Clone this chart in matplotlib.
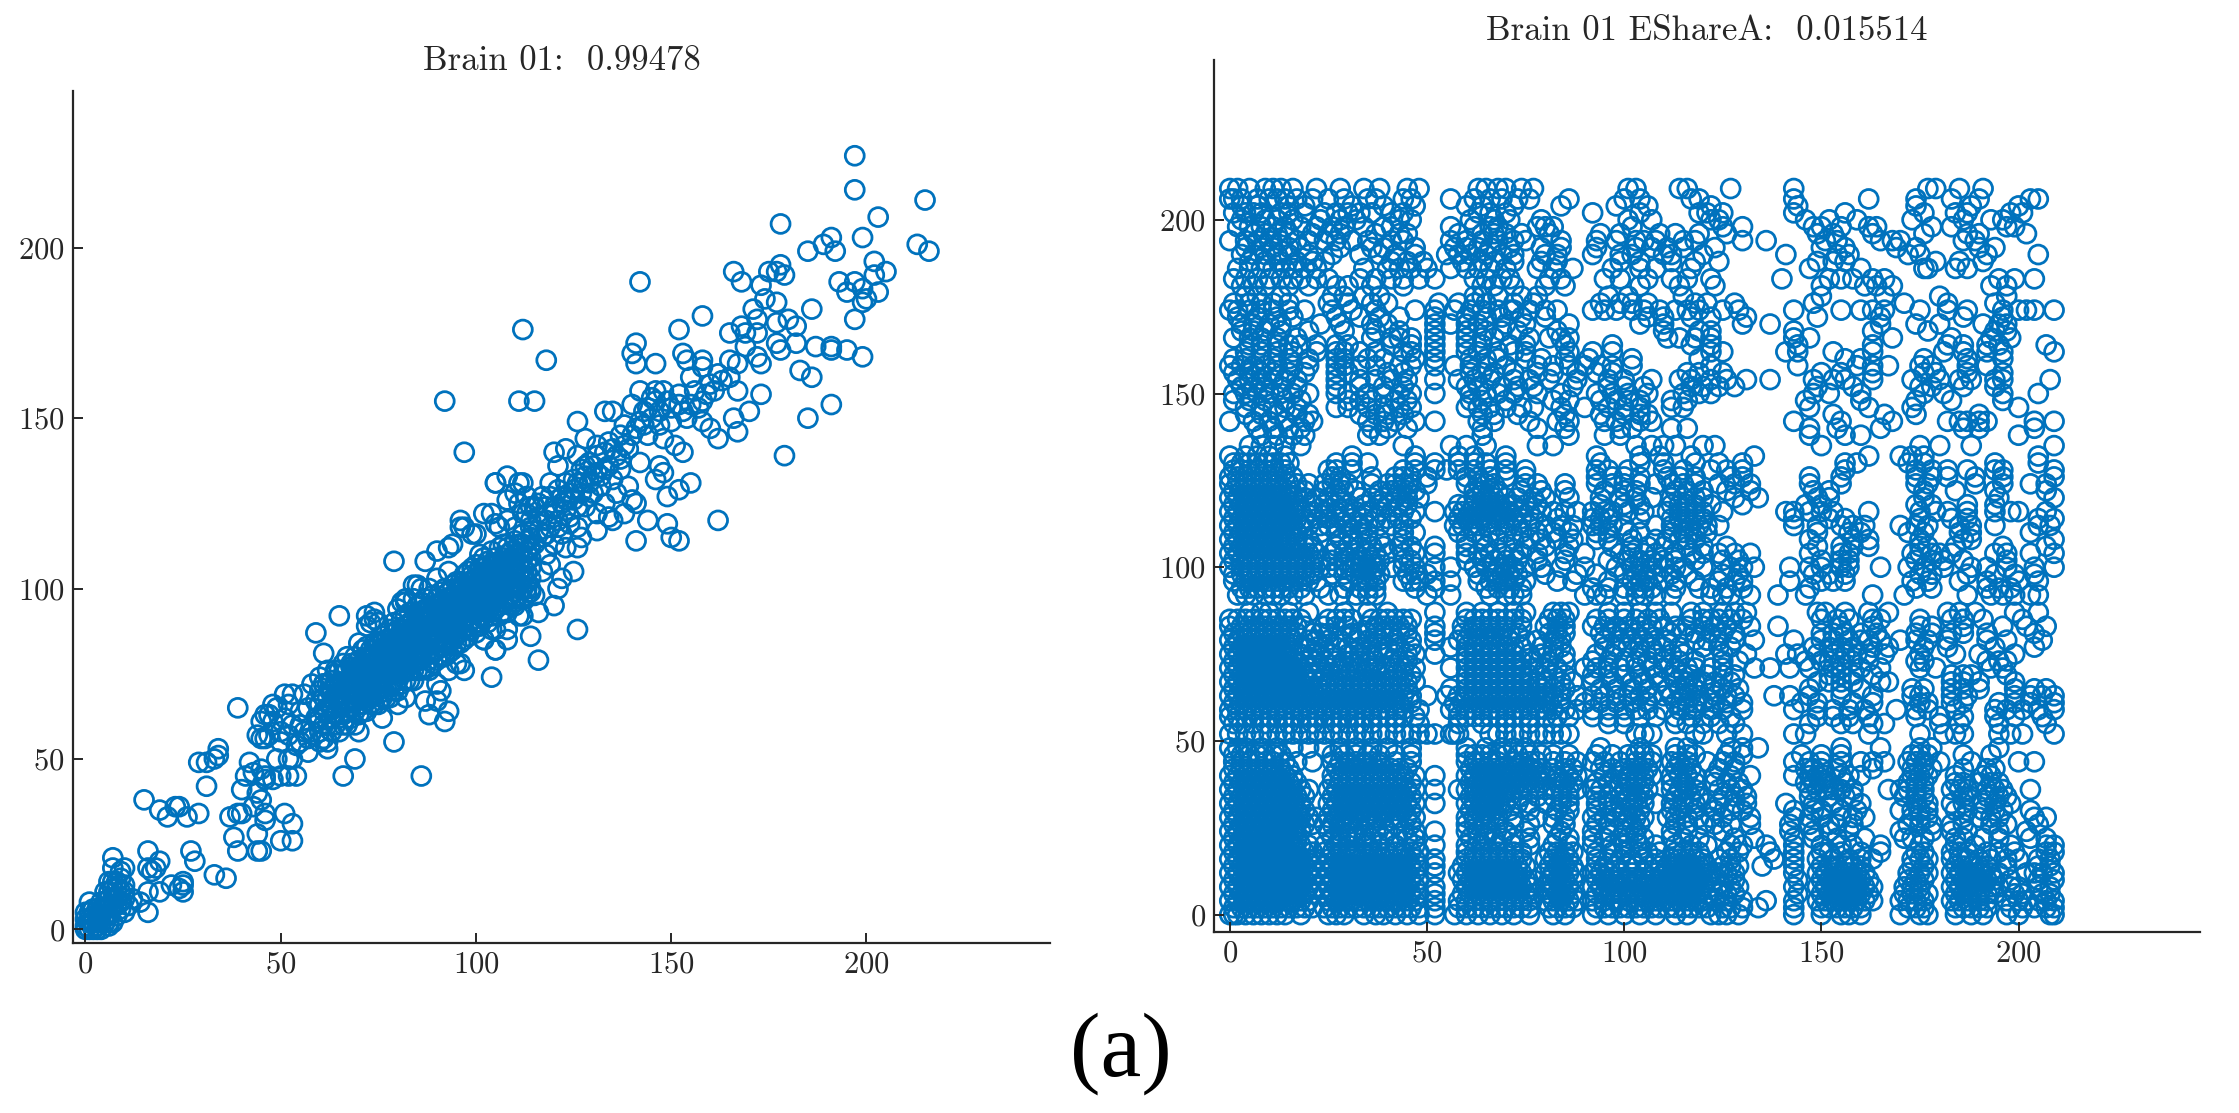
"""Brain 01 scatter plots: original vs. shared copy."""

import matplotlib
matplotlib.use("Agg")
import matplotlib.pyplot as plt

# Left panel as (x, y)

left_top = [(197,227),(197,217),(215,214),(203,209),(178,207),(199,203),(191,203),(189,201),(213,201),(216,199),(185,199),(192,199),
            (202,196),(205,193),(202,192),(166,193),(168,190),(178,195),(175,193),(177,193),(179,192),(173,189),(193,190),(197,190),
            (195,187),(203,187),(199,188),(199,184),(200,185),(142,190),(174,185),(177,184),(171,182),(186,182),(197,179),(158,180),
            (172,179),(177,178),(180,179),(182,177),(152,176),(165,175),(168,177),(169,175),(112,176),(172,175),(141,172),(169,171),
            (177,172),(182,172),(187,171),(191,171),(191,170),(178,170),(195,170),(199,168),(153,169),(140,169),(172,168),(173,166),
            (118,167),(141,166),(146,166),(158,167),(154,167),(165,167),(167,166),(183,164),(186,162),(173,157),(167,158),(170,152),
            (92,155),(111,155),(115,155),(191,154),(185,150),(166,150),(167,146),(162,144),(179,139),(97,140),(126,149),(120,140)]

left_upper = [(162,120),(141,114),(149,119),(150,115),(152,114),(144,120),(155,131),(152,129),(149,127),(146,132),(147,136),(148,134),
              (142,137),(140,126),(141,125),(139,130),(153,140),(151,142),(148,144),(145,150),(143,152),(140,154),(142,158),(145,156),
              (148,158),(152,157),(156,158),(160,160),(162,163),(158,165),(155,162),(159,157),(157,153),(153,152),(150,149),(147,148),
              (144,145),(141,147),(138,148),(135,152),(133,152),(137,145),(134,143),(131,142),(128,144),(126,139),(123,141),(121,136),
              (119,131),(117,127),(115,124),(113,122),(128,136),(130,133),(132,130),(135,132),(137,135),(136,128),(133,125),(131,122),
              (129,127),(127,131),(125,129),(122,127),(120,124),(118,120),(116,117),(124,121),(126,118),(128,124),(131,117),(134,121),
              (126,112),(125,105),(122,103),(121,100),(117,105),(114,100),(115,98),(119,107),(123,112),(127,115),(138,122),(135,120),
              (155,154),(158,155),(161,158),(163,161),(165,162),(150,153),(147,152),(143,148),(139,141),(137,138),(133,135),(130,136),
              (128,133),(126,131),(124,128),(122,125),(120,122),(118,124),(149,155),(146,158),(152,154),(160,147),(158,149),(154,150),
              (131,134),(129,131),(127,128),(125,126),(123,123),(121,120),(119,118),(117,115),(115,113),(113,111),(126,124),(124,119),
              (122,116),(120,113),(118,110),(130,128),(132,133),(134,136),(136,139),(138,142),(140,145),(142,149),(144,153),(146,155),
              (112,116),(114,118),(116,121),(118,116),(121,118),(123,126),(125,132),(127,135),(129,137),(131,139),(133,140),(135,141),
              (112,122),(110,118),(108,120),(106,118),(111,125),(113,127),(116,125),(119,127),(121,129),(123,131)]

left_core_x = [60, 61, 62, 63, 64, 65, 66, 67, 68, 69, 70, 71, 72, 73, 74, 75, 76, 77, 78, 79, 80, 81, 82, 83, 84, 85, 86, 87, 88,
               89, 90, 91, 92, 93, 94, 95, 96, 97, 98, 99, 100, 101, 102, 103, 104, 105, 106, 107, 108, 109, 110, 111, 112, 113, 114]
left_core_y = [[58, 62, 66, 70, 74], [56, 60, 64, 68, 72], [55, 60, 64, 68, 72, 76], [58, 62, 65, 69, 73], [60, 63, 66, 69, 72, 76],
               [58, 62, 66, 69, 72, 76], [60, 63, 66, 69, 72, 75], [60, 64, 67, 70, 73, 76, 80], [62, 65, 68, 71, 74, 77], [60, 64, 67, 70, 73, 76, 80],
               [63, 66, 68, 70, 72, 74, 76, 79], [64, 66, 68, 70, 72, 74, 76, 78, 82], [64, 67, 70, 72, 74, 76, 78, 80, 83, 89], [66, 68, 70, 72, 74, 76, 78, 80, 82, 90],
               [66, 69, 72, 74, 76, 78, 80, 82, 84, 91], [66, 69, 72, 75, 77, 79, 81, 84, 90], [68, 71, 74, 76, 78, 80, 82, 84, 86], [68, 71, 74, 77, 79, 81, 83, 85, 87],
               [68, 72, 75, 77, 79, 81, 83, 85, 88], [70, 73, 75, 77, 79, 81, 83, 85, 87, 90], [70, 73, 76, 78, 80, 82, 84, 86, 88, 94], [72, 75, 78, 80, 82, 84, 86, 88, 91, 96],
               [73, 76, 79, 81, 83, 85, 87, 89, 92, 97], [73, 76, 79, 82, 84, 86, 88, 90, 93], [73, 76, 79, 82, 85, 87, 89, 91, 97, 101], [76, 79, 82, 84, 86, 88, 90, 92, 95],
               [76, 79, 82, 85, 87, 89, 91, 93, 96, 100], [77, 80, 83, 86, 88, 90, 92, 94, 97], [76, 79, 82, 85, 87, 89, 91, 94, 100], [78, 81, 84, 86, 88, 90, 92, 95, 98],
               [72, 79, 82, 85, 87, 89, 91, 93, 95, 97, 103], [80, 83, 86, 88, 90, 92, 94, 96, 99], [80, 83, 85, 87, 89, 91, 93, 95, 97, 100], [76, 81, 84, 87, 89, 91, 93, 95, 97, 99, 105, 112],
               [82, 85, 88, 90, 92, 94, 96, 98, 101], [84, 87, 89, 91, 93, 95, 97, 99, 102], [78, 84, 87, 90, 92, 94, 96, 98, 100, 102, 118], [85, 88, 91, 93, 95, 97, 99, 101, 104],
               [86, 89, 92, 94, 96, 98, 100, 102, 105], [88, 91, 94, 96, 98, 100, 102, 104, 106, 116], [87, 90, 93, 95, 97, 99, 101, 103, 107], [89, 92, 94, 96, 98, 100, 102, 104, 106, 110],
               [85, 91, 94, 96, 98, 100, 102, 104, 106, 109, 122], [90, 93, 95, 97, 99, 101, 103, 105, 108], [88, 92, 95, 97, 99, 101, 103, 105, 107, 111], [82, 88, 94, 97, 99, 101, 103, 105, 107, 109, 119, 131],
               [92, 95, 98, 100, 102, 104, 106, 108, 112], [93, 96, 99, 101, 103, 105, 107, 109, 113], [88, 93, 97, 100, 102, 104, 106, 108, 110, 112, 126], [95, 98, 101, 103, 105, 107, 109, 111],
               [96, 99, 102, 104, 106, 108, 110, 114], [92, 98, 101, 104, 107, 110, 113, 131], [97, 100, 103, 106, 109, 112, 116], [98, 102, 105, 108, 111, 114], [99, 103, 106, 109, 112, 115, 120, 124]]

left_mid = [(87,108),(79,108),(90,111),(85,101),(82,96),(96,120),(94,113),(97,118),(100,116),(104,122),(105,131),(108,133),(110,128),
            (112,131),(115,124),(66,45),(69,50),(79,55),(86,45),(59,87),(65,92),(61,81),(72,92),(74,93),(70,84),(68,78),(39,65),
            (92,61),(93,64),(88,63),(87,67),(76,62),(70,58),(91,70),(90,67),(80,66),(82,68),(95,78),(97,76),(104,74),(116,79),(114,86),
            (116,93),(120,95),(126,88),(112,92),(108,85),(105,82),(102,85),(110,95),(113,100),(56,69),(58,72),(53,69),(52,66),(48,66),
            (47,63),(45,61),(45,56),(47,57),(50,55),(52,50),(54,54),(57,56),(55,60),(59,62),(62,53),(60,55),(57,52),(63,58),(61,72),
            (64,75),(66,78),(54,45),(50,45),(52,45),(57,65),(59,67),(43,46),(46,45),(48,44),(42,49),(41,45),(40,41),(44,40),(46,44),(45,47),
            (49,65),(51,62),(53,60),(55,64),(56,58),(58,58),(55,55),(52,57),(50,58),(46,56),(44,57),(46,63),(48,61),(51,69),(53,50),(49,50)]

left_low = [(15,38),(19,35),(21,33),(23,36),(24,36),(26,33),(29,34),(29,49),(31,49),(34,51),(34,53),(33,50),(31,42),(37,33),(39,34),(40,34),
            (38,27),(39,23),(44,28),(45,23),(44,23),(33,16),(36,15),(27,23),(28,20),(16,23),(7,21),(19,20),(16,18),(10,18),(25,14),(25,11),
            (25,13),(22,13),(24,12),(19,11),(16,11),(16,5),(51,34),(53,31),(53,26),(50,26),(46,34),(46,32),(43,36),(45,38),(17,17),(18,18),
            (7,18),(9,17),(6,14),(8,14),(10,13),(9,11),(7,12),(5,11),(8,9),(10,9),(6,9),(4,8),(1,8),(12,9),(14,8),(11,7),(9,6),(7,7),(5,6),
            (3,6),(1,5),(0,3),(2,4),(4,4),(6,4),(8,4),(10,5),(7,2),(5,2),(3,2),(1,2),(0,1),(2,0),(4,0),(3,1),(1,0),(6,1),
            (4,6),(6,7),(8,7),(7,9),(9,8),(10,11),(8,12),(7,14),(9,15),(6,11),(5,8),(3,4),(2,2),(1,3),(4,2),(5,4),(6,2),(3,0),(0,0),(2,6),(0,5)]

# Right panel: one list of x values per row of y values

right_y = [209, 206, 202, 198, 194, 190, 186, 183, 178, 174, 170, 166, 162, 158, 154, 150, 146, 142, 138, 135, 132, 128,
           124, 120, 116, 112, 108, 104, 100, 96, 92, 87, 83, 79, 75, 71, 67, 63, 59, 55, 52, 48, 44, 40, 36, 32, 28, 24,
           20, 16, 12, 8, 4, 0]
right_x = [
    [0,2,5,9,11,13,16,22,28,34,38,45,48,63,65,68,70,74,77,101,103,114,116,127,143,177,179,185,191],
    [0,1,3,7,10,12,14,17,21,25,29,35,37,44,46,56,62,66,69,73,76,86,100,104,117,119,143,162,174,183,190,205,203],
    [1,4,6,8,13,15,19,24,27,30,33,36,41,44,63,66,70,92,104,119,121,125,143,156,176,184,187,198,201],
    [2,5,8,11,14,18,22,26,29,34,39,41,56,62,66,68,78,80,82,102,125,130,148,150,155,162,164,178,183,197,199],
    [0,4,7,10,13,17,20,24,27,31,35,41,44,56,60,64,68,72,75,84,93,98,103,105,108,115,118,130,136,151,154,165,168,170,186,189],
    [3,6,9,12,15,20,26,33,38,42,47,55,58,61,65,69,72,80,83,92,99,102,110,112,120,141,154,157,172,175,192,205],
    [2,5,8,11,14,16,19,22,34,40,43,46,50,56,60,63,66,70,78,82,87,97,104,108,117,147,160,176,177,184,187],
    [1,4,7,10,13,16,18,22,25,33,37,41,44,48,52,62,65,69,71,81,84,95,99,106,112,116,122,140,152,155,158,163,166,195,199,204],
    [4,7,13,26,29,34,38,62,64,68,74,78,96,101,115,150,166,180,197],
    [0,2,5,8,11,15,19,26,31,37,47,52,57,61,64,68,71,72,76,80,83,92,95,98,102,105,109,113,116,119,125,129,143,155,160,163,166,175,182,187,196,200,202,204,209],
    [3,6,10,13,23,28,36,40,52,56,60,63,70,75,86,104,110,130,137,165,174,180,191,195,197],
    [1,5,8,12,17,36,41,43,46,52,60,64,67,76,81,84,86,111,114,118,122,143,147,168,183,193,198],
    [4,8,12,16,22,27,29,33,37,44,46,52,60,63,68,72,75,86,92,97,122,125,141,144,153,163,181,186,192,196,209],
    [0,3,6,9,12,16,20,27,29,33,37,43,46,52,57,61,65,70,78,82,86,90,94,97,102,122,144,159,163,167,175,178,187,192],
    [2,5,8,11,14,17,27,33,37,41,45,52,58,62,66,72,76,81,88,96,100,107,114,117,122,126,131,137,148,153,156,163,173,180,185,188,194,196,208],
    [1,4,7,10,13,16,20,27,30,35,39,43,46,52,61,65,68,72,78,84,93,97,101,106,115,119,122,148,152,160,176,181,196,205],
    [4,8,11,14,17,27,30,35,39,43,46,60,63,66,70,74,77,84,90,96,100,104,112,115,147,162,173,200],
    [0,6,10,14,19,21,35,39,42,47,52,63,67,76,83,86,95,98,104,107,143,155,168,182,185,187,190,192,204,209],
    [8,12,16,19,35,38,64,86,95,99,147,156,160,200],
    [5,8,11,14,18,44,56,60,65,78,82,103,107,110,113,120,123,150,175,180,188,209],
    [0,4,7,10,14,31,47,58,62,70,93,104,109,117,133,162,170,173,176,205],
    [1,3,5,7,9,11,14,25,27,31,44,47,52,55,58,62,66,70,75,93,96,101,110,115,122,126,130,156,174,178,182,187,194,196,209],
    [0,2,4,6,8,10,12,15,17,20,24,26,28,30,36,40,42,44,46,50,60,63,65,67,75,78,85,93,97,100,104,108,112,115,118,124,128,132,147,155,174,177,189,196,203,207],
    [0,2,4,6,8,10,12,14,16,19,22,25,28,33,36,39,42,45,48,62,65,67,70,73,77,80,86,94,99,103,107,112,115,118,120,128,134,149,152,176,195,209],
    [0,2,4,6,8,10,12,14,16,18,21,24,27,29,32,35,38,41,44,47,52,57,59,61,63,65,67,69,71,73,76,79,82,85,88,92,95,97,101,105,111,114,116,118,120,125,141,143,147,150,153,162,175,179,182,187,194,198,200,207],
    [0,2,4,6,8,10,12,14,16,18,20,23,25,27,30,33,35,38,41,44,57,59,61,63,65,68,71,73,76,80,84,87,92,94,97,100,108,112,115,117,119,121,124,143,149,155,158,161,170,174,177,185,188,194,205,208],
    [0,2,4,6,8,10,12,14,17,20,28,31,35,38,44,60,64,68,72,76,79,83,87,93,96,102,108,111,114,116,118,147,158,162,175,186,188,209],
    [0,2,4,6,8,10,12,14,16,18,20,22,26,29,32,35,37,40,44,47,52,60,63,66,69,72,74,78,85,90,99,102,105,108,113,117,120,124,128,132,147,155,157,173,175,178,180,183,194,197,203,209],
    [0,3,5,7,9,11,13,15,17,19,21,23,25,27,29,31,33,35,37,41,44,47,52,56,62,65,68,70,72,75,79,84,90,98,102,104,107,110,113,115,120,127,130,133,142,147,150,155,157,165,172,176,181,188,192,197,204,209],
    [1,4,6,8,10,12,14,16,18,20,22,30,33,35,37,44,46,48,52,56,63,66,68,70,72,75,83,87,96,102,104,106,110,113,118,124,128,130,142,150,153,156,173,177,185,192,200,205],
    [2,4,6,9,11,13,16,19,25,28,32,35,37,50,56,66,70,72,74,90,93,95,100,103,105,108,112,122,125,127,132,139,146,163,171,187,193,196,199,203,205],
    [5,8,10,15,20,29,35,40,52,60,64,68,72,75,82,84,86,96,100,104,108,112,117,120,125,128,131,149,151,156,162,167,182,185,189,199,205],
    [0,3,5,7,9,11,13,15,17,19,24,27,30,35,37,39,41,43,45,52,59,62,64,66,68,70,74,80,83,85,92,95,98,101,104,107,110,113,116,120,123,126,132,139,155,163,175,178,186,196,202,207],
    [0,2,4,6,8,10,12,14,16,20,22,25,28,32,35,38,42,46,52,58,60,63,66,69,71,75,78,82,84,95,99,102,105,108,111,118,121,124,128,133,143,150,153,157,160,162,165,170,174,177,182,192,197,206],
    [0,2,4,6,8,10,12,14,16,18,21,23,26,30,33,36,39,42,45,47,52,60,62,64,66,68,70,72,76,79,82,85,93,97,104,108,112,115,125,131,141,144,149,153,156,159,162,166,175,184,190,199],
    [0,2,4,6,8,10,12,14,16,18,20,23,25,28,30,32,35,37,40,42,44,47,56,60,62,64,66,68,70,72,74,77,80,83,90,93,96,99,103,107,110,113,116,118,122,125,133,137,142,147,153,155,160,165,175,179,193,196],
    [0,2,4,6,8,10,12,14,16,18,20,23,25,27,29,31,33,35,37,39,41,43,45,47,60,62,64,66,68,70,72,74,76,78,80,84,87,92,97,102,105,109,113,116,118,120,123,127,149,152,155,158,165,167,183,186,190,199],
    [0,2,4,6,8,10,12,14,16,18,20,22,24,26,28,30,32,34,36,38,40,42,44,46,50,55,58,60,62,64,66,68,70,72,74,76,78,80,82,84,88,92,95,98,101,104,107,110,112,115,117,119,123,126,128,138,142,147,155,163,173,175,183,187,199,203,206,209],
    [0,2,4,6,8,10,12,14,16,18,20,22,24,26,28,30,32,34,36,38,40,42,44,48,56,58,60,62,64,66,68,70,72,74,76,78,80,82,85,88,92,96,100,103,106,110,114,116,118,122,125,130,143,149,153,157,161,169,174,177,184,194,197,201,205,209],
    [1,3,6,9,12,15,18,21,24,27,30,33,36,42,48,58,64,70,76,82,96,100,113,116,120,124,128,147,155,158,163,166,180,185,195,207],
    [0,2,4,6,8,10,12,14,16,18,20,22,24,26,28,30,32,34,36,38,40,42,44,46,48,50,52,56,57,58,66,68,70,72,74,76,78,80,82,84,86,103,105,107,118,120,126,130,143,146,162,175,181,184,186,195,198,201,209],
    [0,2,4,8,12,16,20,24,28,32,36,40,46,60,65,69,72,75,94,104,113,116,127,130,134,155,165,175,178,195],
    [1,3,5,7,9,11,14,17,21,26,28,30,32,34,36,38,42,46,60,62,64,66,68,72,74,76,78,82,85,88,92,95,99,103,105,107,112,114,116,121,125,128,143,147,150,155,160,163,166,172,174,176,180,188,200,204],
    [0,2,4,6,8,10,12,14,16,26,28,30,32,34,36,38,40,42,44,47,52,60,62,64,66,68,70,72,74,76,78,80,83,86,88,95,99,101,103,105,107,112,114,116,118,123,127,132,143,147,149,151,155,157,160,173,175,177,184,191,193],
    [0,2,4,6,8,10,12,14,16,18,20,25,27,29,31,33,35,37,39,41,43,45,47,52,58,60,62,64,66,68,70,72,74,76,78,80,82,84,86,88,92,94,97,100,102,104,106,112,114,116,118,124,127,130,147,149,151,153,155,158,167,170,172,174,176,183,185,187,192,194,196,203],
    [0,2,4,6,8,10,12,14,16,18,25,27,29,31,33,35,37,39,41,43,45,47,52,60,62,64,66,68,70,73,76,80,84,86,93,96,99,102,105,108,112,115,118,121,124,128,131,141,148,153,160,174,177,183,186,191,194,198],
    [0,2,4,6,8,10,12,14,16,18,20,22,25,27,29,31,33,35,37,39,41,43,45,47,60,62,64,66,68,72,78,82,85,92,95,98,101,103,105,111,113,116,119,122,125,132,143,147,150,155,158,161,173,175,177,186,190,193,195,204,207],
    [0,2,4,6,8,10,12,14,16,18,25,28,31,34,37,40,44,47,52,60,63,66,70,75,84,92,96,100,103,112,116,125,142,148,152,157,170,178,183,187,195,202],
    [0,2,4,6,8,10,12,14,16,18,20,24,27,30,35,38,42,47,52,60,64,68,72,76,82,86,92,97,100,104,108,113,117,121,127,130,136,143,150,155,158,165,175,184,189,198,207,209],
    [0,2,4,6,8,10,12,14,16,18,20,22,25,27,29,31,33,35,37,39,41,43,45,47,52,60,62,64,66,68,70,72,74,80,82,84,86,93,96,99,102,105,108,112,114,116,118,120,124,127,138,143,149,153,157,160,163,173,175,177,183,185,187,190,193,197,200,205,208],
    [0,2,4,6,8,10,12,14,16,18,20,22,25,27,29,31,33,35,37,39,41,43,45,47,52,58,60,62,64,66,68,70,72,74,80,82,84,86,88,92,94,96,99,102,105,108,110,112,114,116,118,120,122,124,126,128,143,149,151,153,155,157,159,161,172,175,177,183,185,187,189,191,193,195,202,204,206,209],
    [0,2,4,6,8,10,12,14,16,18,20,22,25,27,29,31,33,35,37,39,41,43,45,47,52,60,62,64,66,68,70,72,74,76,80,82,84,86,92,94,96,98,100,102,104,106,108,110,112,114,116,118,120,122,125,127,129,143,149,151,153,155,157,159,161,163,171,173,175,183,185,187,189,191,193,195,198,200,205,208],
    [0,2,4,6,8,10,12,14,16,18,20,25,27,29,31,33,35,37,39,41,43,45,47,52,58,60,62,64,66,68,70,72,74,76,80,82,84,86,88,92,95,98,101,104,106,108,110,112,114,116,118,120,123,126,130,136,143,149,151,153,155,157,159,161,163,170,172,174,176,183,185,187,190,192,197,200,202,205,207,209],
    [0,1,2,4,6,8,10,12,14,18,25,27,29,34,37,39,42,45,48,52,57,60,63,66,69,72,76,82,85,92,96,100,104,108,113,116,122,124,126,129,143,150,155,157,160,170,175,177,184,188,191,197,200,208,209],
]

# Rows in between, where the marks in the picture stand off the rows above

right_y2 = [204, 200, 196, 192, 188, 181, 176, 172, 168, 164, 160, 156, 152, 148, 144, 140, 130, 126, 122, 118, 114, 110, 106, 102, 98, 94,
            85, 81, 77, 73, 69, 65, 61, 57, 46, 42, 38, 34, 30, 26, 22, 18, 14, 10, 6, 2]
right_x2 = [
    [3,7,15,19,31,39,47,60,64,72,84,98,106,122,144,174,188,200],
    [3,9,12,16,23,28,32,43,46,61,67,71,79,101,107,122,124,146,152,159,173,186,193,196],
    [6,9,12,15,21,25,28,37,43,45,58,64,67,70,74,81,94,99,109,113,119,126,149,153,163,176,187,190,202],
    [4,8,11,15,18,28,36,39,47,57,60,63,66,71,79,84,93,103,107,111,115,123,150,156,169,174,190,194],
    [5,9,13,17,21,24,41,45,49,59,64,67,72,79,83,99,104,112,118,124,149,153,156,179,185,191],
    [3,6,9,15,20,27,30,36,44,64,67,72,80,85,104,114,123,150,161,164,168,193,197],
    [1,5,8,11,15,25,30,36,40,53,58,62,65,72,77,94,99,102,106,118,121,128,148,171,182,194],
    [2,7,12,16,27,33,38,43,52,60,65,69,74,80,106,110,117,122,131,149,165,186,196],
    [3,6,9,13,20,29,37,43,52,60,65,69,73,83,110,119,122,143,163,177,194,197],
    [5,8,12,15,18,22,27,30,41,46,52,60,64,71,75,85,97,117,122,144,163,182,186,192,195,207],
    [1,4,8,11,15,20,27,29,35,39,47,52,61,65,68,75,79,85,91,102,119,156,160,176,187,196],
    [1,5,8,11,15,19,27,30,40,44,61,64,67,72,78,82,88,93,97,116,119,125,150,155,163,176,179,187,196],
    [3,6,9,13,17,27,33,39,44,60,63,69,73,77,87,96,100,105,117,120,124,128,149,158,175,178,186,194],
    [1,5,9,14,18,30,33,36,42,45,61,64,70,82,86,94,98,101,104,112,116,146,160,174,183,196],
    [4,8,12,17,20,33,37,40,44,64,67,73,85,94,100,104,106,153,166,174,190],
    [7,11,15,18,36,40,45,64,78,85,99,102,112,116,147,154,165,186,190,204],
    [1,3,5,7,9,11,13,15,27,31,35,47,52,58,62,65,70,94,104,110,118,124,130,156,159,172,176,194,205],
    [0,2,4,6,8,10,12,14,16,26,28,36,42,44,46,50,60,63,66,70,75,93,97,100,104,111,114,118,127,130,147,155,174,178,182,189,196,209],
    [1,3,5,7,9,11,13,15,17,19,24,27,29,32,38,41,43,45,47,62,64,66,68,74,79,85,95,100,103,113,116,120,126,132,148,152,176,184,194,207],
    [1,3,5,7,9,11,13,15,17,21,24,27,30,34,38,40,43,45,58,60,62,64,66,68,70,72,75,78,94,100,104,112,114,116,118,122,130,146,150,174,178,187,194],
    [1,3,5,7,9,11,13,15,17,19,22,25,28,31,34,37,40,43,46,58,60,62,64,66,68,70,72,74,77,83,92,94,96,104,112,114,116,118,120,143,152,156,175,183,187,205,209],
    [1,3,5,7,9,11,13,15,17,23,27,30,33,35,44,47,58,62,66,70,74,78,82,86,93,96,101,104,112,115,118,121,149,157,160,172,176,185,188,203],
    [1,3,5,7,9,11,13,15,17,19,21,27,30,33,36,39,43,46,52,60,65,70,75,80,86,97,102,106,110,116,120,126,149,155,158,162,175,177,184,196,207],
    [1,3,5,7,9,11,13,15,17,19,21,23,26,29,32,34,36,38,44,46,60,64,67,70,73,78,85,96,101,104,107,110,113,118,125,129,150,155,157,174,178,181,186,197],
    [1,3,5,7,9,11,13,15,17,19,21,26,29,32,34,36,38,45,47,50,63,67,69,71,73,80,88,93,100,103,105,108,112,116,125,129,148,152,156,175,178,187,194,199,204],
    [3,5,7,9,11,13,15,18,23,29,33,35,37,47,52,65,68,71,74,92,96,100,103,105,107,113,119,122,126,130,147,174,178,192,195,198],
    [0,2,4,6,8,10,12,14,16,18,25,27,29,31,36,38,40,42,44,46,60,62,64,66,68,70,72,74,81,83,85,93,96,100,103,106,109,117,120,122,124,127,130,150,154,157,163,165,175,183,186,191,201],
    [1,3,5,7,9,11,13,15,17,21,23,25,31,33,35,37,39,41,43,45,52,59,61,63,65,67,69,71,73,81,83,85,94,97,100,103,106,112,115,118,122,125,128,150,153,156,160,164,174,178,183,186,192,204],
    [1,3,5,7,9,11,13,15,19,22,24,27,30,33,36,38,40,43,46,56,60,62,64,66,68,70,72,74,79,82,84,95,98,101,104,107,110,114,120,124,127,148,152,155,158,163,167,176,182,194,204],
    [1,3,5,7,9,11,13,15,17,19,22,24,27,29,31,33,35,37,41,43,45,60,62,64,66,68,70,72,74,77,81,85,92,96,100,103,106,110,114,118,125,129,146,150,152,155,158,162,174,176,192,195,197],
    [1,3,5,7,9,11,13,15,17,19,21,24,26,28,30,32,34,36,38,40,42,44,46,60,62,64,66,68,70,72,74,76,79,82,85,92,96,100,104,108,112,115,117,121,125,128,152,155,158,163,183,186,188,197],
    [1,3,5,7,9,11,13,15,17,19,21,23,25,27,29,31,33,35,37,39,41,43,45,56,60,62,64,66,68,70,72,74,76,79,82,85,94,98,102,106,111,114,116,118,122,125,129,147,155,160,173,176,183,186,190,199,204,207],
    [1,3,5,7,9,11,13,15,17,19,21,23,25,27,29,31,33,35,37,39,41,43,46,57,59,61,63,65,67,69,71,73,75,77,79,81,84,90,94,98,102,106,113,116,118,120,123,126,130,145,149,158,163,175,177,183,186,195,199,203,209],
    [0,2,4,6,8,10,12,14,16,18,20,22,24,26,28,30,32,34,36,38,40,42,44,47,58,60,62,64,66,68,70,72,74,76,80,83,86,92,96,100,104,108,113,117,122,127,149,153,157,162,174,180,186,194,199,206],
    [1,3,5,7,9,11,13,26,29,32,35,38,42,46,60,62,64,66,68,70,73,76,79,82,86,93,97,101,103,105,107,113,116,118,126,130,145,150,155,173,175,177,186,193],
    [1,3,5,7,9,11,13,15,27,29,31,33,35,37,39,41,43,45,61,63,65,67,69,71,73,75,77,79,82,85,87,94,97,100,102,104,106,113,115,117,124,128,146,148,150,154,163,173,176,178,186,192,194],
    [1,3,5,7,9,11,13,15,17,26,28,30,32,34,36,38,40,42,44,46,61,63,65,67,69,71,73,75,77,79,83,85,87,93,96,99,101,103,105,112,115,118,123,126,129,146,148,150,152,156,172,174,176,184,186,190,193,195],
    [1,3,5,7,9,11,13,15,17,19,26,28,30,32,34,36,38,40,42,44,46,61,63,65,67,69,71,74,78,82,84,86,93,96,99,101,103,105,113,115,117,119,125,128,131,147,152,156,158,171,174,176,186,188,192,195,197],
    [1,3,5,7,9,11,13,15,17,19,26,28,30,32,34,36,38,40,42,44,46,61,63,65,67,69,71,76,83,86,93,97,100,102,104,112,114,118,123,127,130,143,148,150,155,159,170,173,175,177,184,187,191,194,196,203],
    [1,3,5,7,9,11,13,15,17,19,21,24,26,28,30,33,36,39,42,46,60,62,65,68,72,76,82,85,93,96,100,102,104,113,116,120,123,127,132,142,147,152,154,158,172,175,178,183,186,193,197,205],
    [1,3,5,7,9,11,13,15,17,26,28,30,32,34,36,39,42,45,47,61,63,65,67,69,72,76,83,86,92,95,99,101,103,105,112,115,119,128,133,143,148,154,161,171,173,176,184,186,191,195,203,207],
    [1,3,5,7,9,11,13,15,17,19,21,24,26,28,30,32,34,36,38,40,42,44,46,48,60,62,64,66,68,70,72,74,81,83,85,87,93,97,100,104,106,109,113,115,117,119,126,129,137,143,150,152,155,160,165,174,176,183,185,187,192,195,199,207,209],
    [1,3,5,7,9,11,13,15,17,19,21,24,26,28,30,32,34,36,38,40,42,44,46,48,52,59,61,63,65,67,69,71,73,75,81,83,85,87,93,95,98,101,103,106,109,111,113,115,117,119,121,125,127,129,135,143,150,152,154,156,158,160,173,176,184,186,188,190,192,197,205,208],
    [1,3,5,7,9,11,13,15,17,19,21,24,26,28,30,32,34,36,38,40,42,44,46,48,59,61,63,65,67,69,71,73,75,77,81,83,85,87,93,95,97,99,101,103,105,107,109,111,113,115,117,119,121,123,128,144,150,152,154,156,158,160,162,172,174,176,184,186,188,190,192,194,198,205,209],
    [1,3,5,7,9,11,13,15,17,19,21,24,26,28,30,32,34,36,38,40,42,44,46,48,52,59,61,63,65,67,69,71,73,75,77,81,83,85,87,93,95,97,99,101,103,105,107,109,111,113,115,117,119,121,124,126,128,144,150,152,154,156,158,160,162,171,173,175,177,184,186,188,190,192,194,199,201,206,208],
    [1,3,5,7,9,11,13,15,17,19,21,24,26,28,30,32,34,36,38,40,42,44,46,48,52,58,60,62,64,66,68,70,72,74,76,81,83,85,87,93,95,97,99,101,103,105,107,109,111,113,115,117,119,121,125,127,130,134,143,150,152,154,156,158,160,172,174,176,184,186,188,190,192,198,201,204,207,209],
]

text_color = "#262626"
marker_color = "#0072BD"

plt.rcParams["font.family"] = ["cmr10", "DejaVu Sans"]
plt.rcParams["axes.formatter.use_mathtext"] = True

W, H = 2239, 1113
fig = plt.figure(figsize=(W / 100, H / 100), dpi=100)


def make_axes(px_left, px_right, px_top, px_bottom, xlim, ylim, title, title_y):
    ax = fig.add_axes([px_left / W, 1 - px_bottom / H, (px_right - px_left) / W, (px_bottom - px_top) / H])
    ax.set_xlim(*xlim)
    ax.set_ylim(*ylim)
    ax.set_xticks([0, 50, 100, 150, 200])
    ax.set_yticks([0, 50, 100, 150, 200])
    ax.spines["top"].set_visible(False)
    ax.spines["right"].set_visible(False)
    for side in ["left", "bottom"]:
        ax.spines[side].set_color(text_color)
        ax.spines[side].set_linewidth(1.6)
    ax.tick_params(direction="in", length=7, width=1.4, colors=text_color, labelsize=22, pad=6)
    fig.text((px_left + px_right) / 2 / W, 1 - title_y / H, title, fontsize=25, color=text_color,
             ha="center", va="center")
    return ax


# Left panel

ax1 = make_axes(73, 1050, 91, 943, (-3.2, 247), (-4, 246), "Brain 01:  0.99478", 61)
left_x, left_y = [], []
for group in [left_top, left_upper, left_mid, left_low]:
    left_x += [p[0] for p in group]
    left_y += [p[1] for p in group]
for x, ys in zip(left_core_x, left_core_y):
    left_x += [x] * len(ys)
    left_y += ys
ax1.scatter(left_x, left_y, s=185, facecolors="none", edgecolors=marker_color, linewidths=2.0, clip_on=False)

# Right panel

ax2 = make_axes(1214, 2200, 60, 932, (-4, 246), (-5, 246), "Brain 01 EShareA:  0.015514", 31)
xs, ys = [], []
for y, row in zip(right_y + right_y2, right_x + right_x2):
    xs += row
    ys += [y] * len(row)
ax2.scatter(xs, ys, s=185, facecolors="none", edgecolors=marker_color, linewidths=2.0, clip_on=False)

fig.text(1121 / W, 1 - 1054 / H, "(a)", fontsize=66, family="Liberation Serif", color="black", ha="center", va="center")

# Save

fig.savefig("out.png", dpi=100)
